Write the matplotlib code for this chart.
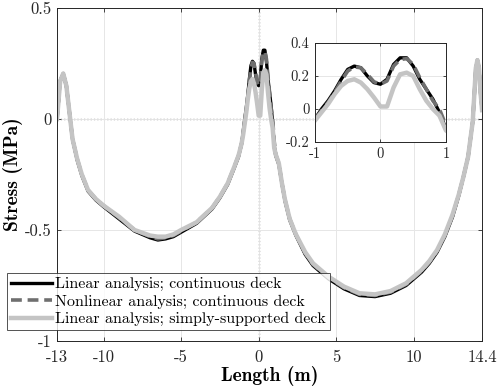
import matplotlib
matplotlib.use("Agg")
import matplotlib.pyplot as plt
import numpy as np

plt.rcParams["font.family"] = ["cmr10", "DejaVu Serif"]
plt.rcParams["axes.unicode_minus"] = False

# 左侧 / 中间 / 右侧 分段读数
x_left = [-13.0, -12.8, -12.6, -12.4, -12.2, -12.0, -11.7, -11.4, -11.0, -10.5, -10.0,
          -9.0, -8.0, -7.0, -6.5, -6.0, -5.5, -5.0, -4.0, -3.0, -2.5, -2.0, -1.6, -1.3, -1.1]
x_mid = [-1.0, -0.9, -0.8, -0.7, -0.6, -0.5, -0.4, -0.3, -0.2, -0.1, 0.0,
         0.1, 0.2, 0.3, 0.4, 0.5, 0.6, 0.7, 0.8, 0.9, 1.0]
x_right = [1.1, 1.3, 1.5, 1.7, 2.0, 2.4, 3.0, 3.5, 4.5, 5.5, 6.5, 7.5, 8.5, 9.5, 10.0,
           10.5, 11.0, 11.5, 12.0, 12.5, 12.9, 13.2, 13.5, 13.8, 14.0, 14.1, 14.2, 14.3, 14.4]

lin_left = [0.0, 0.17, 0.205, 0.15, 0.03, -0.09, -0.185, -0.255, -0.325, -0.365, -0.395,
            -0.45, -0.505, -0.535, -0.545, -0.54, -0.53, -0.51, -0.47, -0.405, -0.355, -0.295, -0.225, -0.17, -0.11]
lin_mid = [-0.06, 0.0, 0.05, 0.11, 0.18, 0.24, 0.26, 0.25, 0.20, 0.16, 0.15,
           0.18, 0.27, 0.31, 0.31, 0.26, 0.18, 0.12, 0.06, -0.02, -0.12]
lin_right = [-0.165, -0.205, -0.29, -0.37, -0.455, -0.525, -0.61, -0.66, -0.72, -0.765, -0.795, -0.80,
             -0.785, -0.75, -0.72, -0.69, -0.65, -0.60, -0.53, -0.44, -0.345, -0.26, -0.17, -0.01,
             0.23, 0.265, 0.23, 0.12, 0.04]

nl_left = [0.0, 0.17, 0.205, 0.15, 0.03, -0.09, -0.18, -0.25, -0.32, -0.36, -0.39,
           -0.445, -0.50, -0.53, -0.54, -0.535, -0.525, -0.505, -0.465, -0.40, -0.35, -0.29, -0.22, -0.165, -0.11]
nl_mid = [-0.06, -0.01, 0.04, 0.10, 0.17, 0.23, 0.255, 0.25, 0.21, 0.165, 0.15,
          0.17, 0.26, 0.30, 0.305, 0.27, 0.19, 0.12, 0.05, 0.0, -0.10]
nl_right = [-0.16, -0.2, -0.29, -0.365, -0.45, -0.52, -0.605, -0.655, -0.715, -0.76, -0.79, -0.795,
            -0.78, -0.745, -0.715, -0.685, -0.645, -0.595, -0.525, -0.435, -0.34, -0.26, -0.17, -0.01,
            0.23, 0.265, 0.23, 0.12, 0.04]

ss_left = [0.0, 0.17, 0.205, 0.15, 0.03, -0.09, -0.18, -0.25, -0.32, -0.36, -0.39,
           -0.44, -0.50, -0.525, -0.53, -0.53, -0.52, -0.50, -0.465, -0.40, -0.35, -0.29, -0.22, -0.165, -0.11]
ss_mid = [-0.07, -0.02, 0.03, 0.09, 0.14, 0.17, 0.18, 0.16, 0.12, 0.07, 0.015,
          0.015, 0.13, 0.21, 0.22, 0.20, 0.12, 0.05, 0.0, -0.04, -0.13]
ss_right = [-0.16, -0.2, -0.29, -0.365, -0.45, -0.52, -0.6, -0.65, -0.71, -0.755, -0.785, -0.79,
            -0.775, -0.74, -0.71, -0.68, -0.64, -0.59, -0.52, -0.43, -0.34, -0.26, -0.17, -0.01,
            0.23, 0.265, 0.23, 0.12, 0.04]

xticks = [-13, -10, -5, 0, 5, 10, 14.4]
xticklabels = ["-13", "-10", "-5", "0", "5", "10", "14.4"]
yticks = [-1, -0.5, 0, 0.5]
yticklabels = ["-1", "-0.5", "0", "0.5"]
inset_xticks = [-1, 0, 1]
inset_xticklabels = ["-1", "0", "1"]
inset_yticks = [-0.2, 0, 0.2, 0.4]
inset_yticklabels = ["-0.2", "0", "0.2", "0.4"]

labels = ["Linear analysis; continuous deck",
          "Nonlinear analysis; continuous deck",
          "Linear analysis; simply-supported deck"]

x = np.array(x_left + x_mid + x_right)
series = [np.array(lin_left + lin_mid + lin_right),
          np.array(nl_left + nl_mid + nl_right),
          np.array(ss_left + ss_mid + ss_right)]
styles = [dict(color="black", lw=2.4, ls="-"),
          dict(color="#6f6f6f", lw=2.6, ls=(0, (3.0, 1.6))),
          dict(color="#c4c4c4", lw=3.2, ls="-")]

fig = plt.figure(figsize=(4.98, 3.89), dpi=100)
ax = fig.add_axes([0.1145, 0.1234, 0.8535, 0.856])

lines = []
for y, st, lab in zip(series, styles, labels):
    l, = ax.plot(x, y, label=lab, **st)
    lines.append(l)

ax.axhline(0, color="#333333", ls=":", lw=0.9, zorder=0.5)
ax.axvline(0, color="#333333", ls=":", lw=0.9, zorder=0.5)

ax.set_xlim(-13, 14.4)
ax.set_ylim(-1, 0.5)
ax.set_xticks(xticks)
ax.set_xticklabels(xticklabels)
ax.set_yticks(yticks)
ax.set_yticklabels(yticklabels)
ax.tick_params(direction="in", length=3, width=0.6, labelsize=12, top=True, right=True,
               colors="#262626")
ax.tick_params(axis="x", pad=6)
ax.tick_params(axis="y", pad=4)
ax.grid(True, color="#e6e6e6", lw=0.7)
ax.set_axisbelow(True)
for s in ax.spines.values():
    s.set_color("#262626")
    s.set_linewidth(0.7)
ax.set_xlabel("Length (m)", fontsize=14, family=["cmb10", "DejaVu Serif"], labelpad=1)
ax.set_ylabel("Stress (MPa)", fontsize=14, family=["cmb10", "DejaVu Serif"], labelpad=1)

# 放大图
axi = fig.add_axes([0.6325, 0.635, 0.263, 0.2545])
for y, st in zip(series, styles):
    axi.plot(x, y, **st)
axi.set_xlim(-1, 1)
axi.set_ylim(-0.2, 0.4)
axi.set_xticks(inset_xticks)
axi.set_xticklabels(inset_xticklabels)
axi.set_yticks(inset_yticks)
axi.set_yticklabels(inset_yticklabels)
axi.tick_params(direction="in", length=2.5, width=0.6, labelsize=10.5, top=True, right=True,
                colors="#262626", pad=4)
axi.grid(True, color="#e6e6e6", lw=0.7)
axi.set_axisbelow(True)
for s in axi.spines.values():
    s.set_color("#262626")
    s.set_linewidth(0.7)

leg = fig.legend(handles=lines, loc="upper left", bbox_to_anchor=(0.014, 0.298),
                 fontsize=11.5, frameon=True, fancybox=False, edgecolor="#262626",
                 handlelength=2.6, handletextpad=0.15, borderpad=0.25, labelspacing=0.2,
                 borderaxespad=0)
leg.get_frame().set_linewidth(0.7)

fig.savefig("out.png", dpi=100)
